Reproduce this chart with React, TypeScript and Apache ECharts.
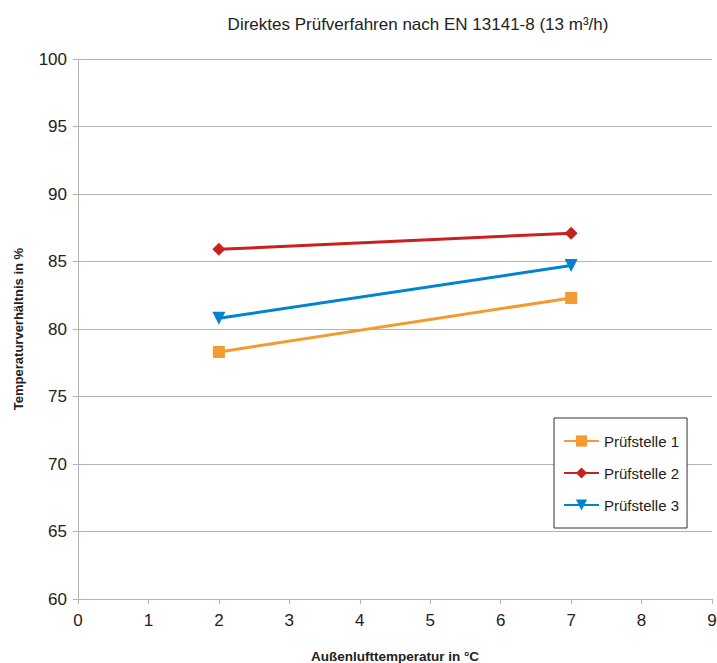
import React, { useEffect, useRef } from "react";
import * as echarts from "echarts";

// Außenlufttemperatur (°C) at the two measuring points
const xValues = [2, 7];
// Temperaturverhältnis (%) per test lab
const pruefstelle1 = [78.3, 82.3];
const pruefstelle2 = [85.9, 87.1];
const pruefstelle3 = [80.8, 84.7];

const seriesNames = ["Prüfstelle 1", "Prüfstelle 2", "Prüfstelle 3"];
const colors = ["#F39B30", "#C9211E", "#0084D1"];

const FONT = "'Liberation Sans', Arial, sans-serif";

export default function App() {
  const ref = useRef<HTMLDivElement>(null);

  useEffect(() => {
    if (!ref.current) return;
    const chart = echarts.init(ref.current, undefined, { renderer: "svg" });
    const pairs = (ys: number[]) => xValues.map((x, i) => [x, ys[i]]);
    const symbols = ["rect", "diamond", "triangle"];
    const symbolSizes = [12, 13, 13];
    const rotations = [0, 0, 180];
    const data = [pruefstelle1, pruefstelle2, pruefstelle3];

    chart.setOption({
      animation: false,
      backgroundColor: "#ffffff",
      textStyle: { fontFamily: FONT },
      title: {
        text: "Direktes Prüfverfahren nach EN 13141-8 (13 m³/h)",
        left: 413,
        top: 11,
        textAlign: "center",
        textStyle: { fontFamily: FONT, fontSize: 17, fontWeight: "normal", color: "#222" },
      },
      grid: {
        left: 78,
        right: 5,
        top: 59,
        bottom: 64,
        containLabel: false,
        outerBoundsMode: "none",
      },
      xAxis: {
        type: "value",
        min: 0,
        max: 9,
        interval: 1,
        name: "Außenlufttemperatur in °C",
        nameLocation: "middle",
        nameGap: 50,
        nameTextStyle: { fontFamily: FONT, fontSize: 13.5, fontWeight: "bold", color: "#222" },
        axisLine: { show: true, lineStyle: { color: "#b3b3b3", width: 1 } },
        axisTick: { show: true, inside: false, length: 5, lineStyle: { color: "#b3b3b3" } },
        axisLabel: { fontFamily: FONT, fontSize: 17, color: "#222", margin: 13 },
        splitLine: { show: false },
      },
      yAxis: {
        type: "value",
        min: 60,
        max: 100,
        interval: 5,
        name: "Temperaturverhältnis in %",
        nameLocation: "middle",
        nameGap: 53,
        nameTextStyle: { fontFamily: FONT, fontSize: 13, fontWeight: "bold", color: "#222" },
        axisLine: { show: true, lineStyle: { color: "#b3b3b3", width: 1 } },
        axisTick: { show: true, inside: false, length: 5, lineStyle: { color: "#b3b3b3" } },
        axisLabel: { fontFamily: FONT, fontSize: 17, color: "#222", margin: 11 },
        splitLine: { show: true, lineStyle: { color: "#b3b3b3", width: 1 } },
      },
      legend: {
        orient: "vertical",
        left: 554,
        top: 418,
        padding: [15, 8, 15, 9],
        itemWidth: 35,
        itemHeight: 14,
        itemGap: 16,
        borderColor: "#333",
        borderWidth: 1,
        backgroundColor: "#fff",
        textStyle: { fontFamily: FONT, fontSize: 15, lineHeight: 16, color: "#222" },
        data: seriesNames,
      },
      series: seriesNames.map((name, i) => ({
        name,
        type: "line",
        data: pairs(data[i]),
        symbol: symbols[i],
        symbolSize: symbolSizes[i],
        symbolRotate: rotations[i],
        showAllSymbol: true,
        color: colors[i],
        lineStyle: { color: colors[i], width: 3 },
        itemStyle: { color: colors[i] },
      })),
    });

    return () => chart.dispose();
  }, []);

  return (
    <div
      ref={ref}
      style={{ position: "absolute", left: 0, top: 0, width: 717, height: 663 }}
    />
  );
}
